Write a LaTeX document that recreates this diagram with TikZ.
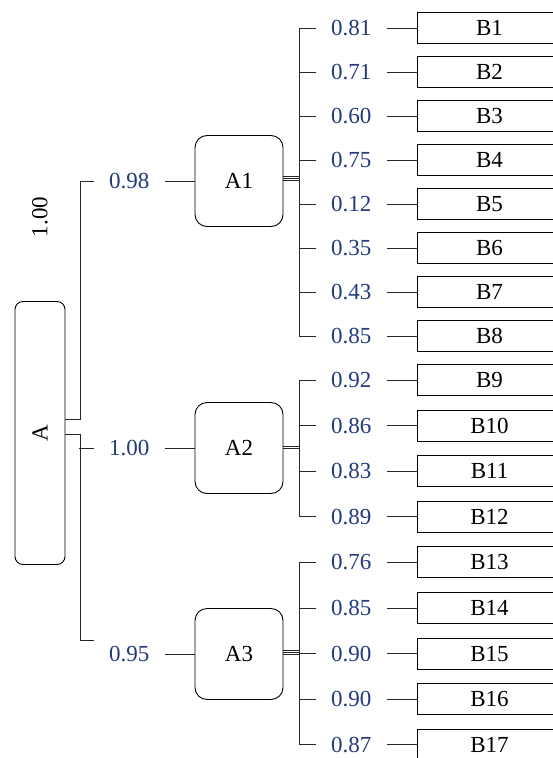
\documentclass[tikz,border=0pt]{standalone}
\usepackage{fontspec}
\setmainfont{Liberation Serif}
\usetikzlibrary{positioning}
\definecolor{wblue}{RGB}{34,58,122}

\begin{document}
\begin{tikzpicture}[x=1pt, y=-1pt, node distance=44pt,
    font=\fontsize{23}{27}\selectfont,
    goal/.style={draw, line width=0.9pt, rounded corners=8pt, minimum width=50pt, minimum height=263pt, inner sep=0pt},
    crit/.style={draw, line width=0.9pt, rounded corners=12pt, minimum width=88pt, minimum height=91pt, inner sep=0pt},
    alt/.style={draw, line width=0.9pt, minimum width=145pt, minimum height=31pt, inner sep=0pt},
    weight/.style={text=wblue, minimum width=70pt, inner sep=0pt},
    link/.style={draw=black!85, line width=0.9pt},
]
\useasboundingbox (0,0) rectangle (553,758);

\node[goal] (a) at (40,433) {\rotatebox{90}{A}};
\node[rotate=90] (wa) at (40,217) {1.00};

\node[crit] (a1) at (239,181) {A1};
\node[crit] (a2) at (239,448) {A2};
\node[crit] (a3) at (239,654) {A3};

\node[weight, left=30pt of a1] (wa1) {0.98};
\node[weight, left=30pt of a2] (wa2) {1.00};
\node[weight, left=30pt of a3] (wa3) {0.95};

\node[alt] (b1) at (489.5,28) {B1};
\node[alt, below of=b1] (b2) {B2};
\node[alt, below of=b2] (b3) {B3};
\node[alt, below of=b3] (b4) {B4};
\node[alt, below of=b4] (b5) {B5};
\node[alt, below of=b5] (b6) {B6};
\node[alt, below of=b6] (b7) {B7};
\node[alt, below of=b7] (b8) {B8};
\begin{scope}[node distance=45.6pt]
\node[alt] (b9) at (489.5,380) {B9};
\node[alt, below of=b9] (b10) {B10};
\node[alt, below of=b10] (b11) {B11};
\node[alt, below of=b11] (b12) {B12};
\node[alt, below of=b12] (b13) {B13};
\node[alt, below of=b13] (b14) {B14};
\node[alt, below of=b14] (b15) {B15};
\node[alt, below of=b15] (b16) {B16};
\node[alt, below of=b16] (b17) {B17};
\end{scope}

\node[weight, left=30pt of b1] (w1) {0.81};
\node[weight, left=30pt of b2] (w2) {0.71};
\node[weight, left=30pt of b3] (w3) {0.60};
\node[weight, left=30pt of b4] (w4) {0.75};
\node[weight, left=30pt of b5] (w5) {0.12};
\node[weight, left=30pt of b6] (w6) {0.35};
\node[weight, left=30pt of b7] (w7) {0.43};
\node[weight, left=30pt of b8] (w8) {0.85};
\node[weight, left=30pt of b9] (w9) {0.92};
\node[weight, left=30pt of b10] (w10) {0.86};
\node[weight, left=30pt of b11] (w11) {0.83};
\node[weight, left=30pt of b12] (w12) {0.89};
\node[weight, left=30pt of b13] (w13) {0.76};
\node[weight, left=30pt of b14] (w14) {0.85};
\node[weight, left=30pt of b15] (w15) {0.90};
\node[weight, left=30pt of b16] (w16) {0.90};
\node[weight, left=30pt of b17] (w17) {0.87};

% goal to criteria
\draw[link] ([yshift=14pt]a.east) -- ++(15pt,0) |- (wa1.west);
\draw[link] ([yshift=-1pt]a.east) -- ++(15pt,0) |- ([yshift=14pt]wa3.west);
\draw[link] (wa2.west) -- ++(-15pt,0);
\draw[link] (wa1) -- (a1);
\draw[link] (wa2) -- (a2);
\draw[link] (wa3) -- (a3);

% criteria to sub-criteria
\draw[link] (w1.west) -- ++(-17pt,0) |- (w8.west);
\draw[link] (w9.west) -- ++(-17pt,0) |- (w12.west);
\draw[link] (w13.west) -- ++(-17pt,0) |- (w17.west);
\foreach \i in {2,...,7,10,11,14,15,16}
  \draw[link] (w\i.west) -- ++(-17pt,0);
\foreach \i in {1,...,17}
  \draw[link] (w\i) -- (b\i);

\draw[link] ([yshift=5pt]a1.east) -- ++(17pt,0);
\draw[link] ([yshift=3pt]a1.east) -- ++(17pt,0);
\draw[link] ([yshift=1pt]a1.east) -- ++(17pt,0);
\draw[link] ([yshift=2pt]a2.east) -- ++(17pt,0);
\draw[link] ([yshift=0pt]a2.east) -- ++(17pt,0);
\draw[link] ([yshift=4pt]a3.east) -- ++(17pt,0);
\draw[link] ([yshift=2pt]a3.east) -- ++(17pt,0);
\draw[link] ([yshift=0pt]a3.east) -- ++(17pt,0);

\end{tikzpicture}
\end{document}
